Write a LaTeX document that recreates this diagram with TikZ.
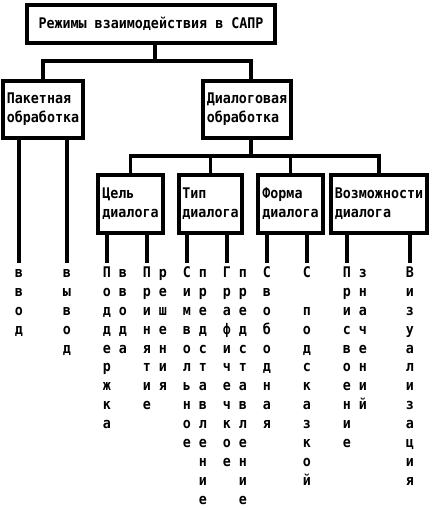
\documentclass[tikz,border=0pt]{standalone}
\usepackage{fontspec}
\newfontfamily\monofont{DejaVu Sans Mono Bold}[FakeStretch=0.91]
\begin{document}
\begin{tikzpicture}[x=0.75pt, y=-0.75pt, line width=2.3pt,
    box/.style={rectangle, draw, align=left, inner sep=0pt, font=\monofont\fontsize{11}{14}\selectfont},
    letters/.style={anchor=north, align=center, inner sep=0pt, font=\monofont\fontsize{11}{14.2}\selectfont}]
    \useasboundingbox (0,0) rectangle (435,510);

    \node [box, minimum width=186pt, minimum height=28.5pt] (top) at (151,24) {Режимы взаимодействия в САПР};

    \begin{scope}[every node/.style={box, minimum height=42.75pt}]
        \node [minimum width=60pt] (batch) at (43,109.5) {Пакетная\\обработка};
        \node [minimum width=66pt] (dlg) at (247,109.5) {Диалоговая\\обработка};
    \end{scope}

    \begin{scope}[every node/.style={box, minimum height=43.5pt}]
        \node [minimum width=48.75pt] (goal) at (130.5,204) {Цель\\диалога};
        \node [minimum width=47.25pt] (type) at (210.5,204) {Тип\\диалога};
        \node [minimum width=48.75pt] (form) at (290.5,204) {Форма\\диалога};
        \node [minimum width=72pt] (abil) at (379,204) {Возможности\\диалога};
    \end{scope}

    \begin{scope}[every node/.style={letters}]
        \node (vvod) at (19,262.5) {\strut в\\в\\о\\д};
        \node (vyvod) at (67,262.5) {\strut в\\ы\\в\\о\\д};
        \node (podderzhka) at (107,262.5) {\strut П\\о\\д\\д\\е\\р\\ж\\к\\а};
        \node (vvoda) at (123,262.5) {\strut в\\в\\о\\д\\а};
        \node (prinyatie) at (147,262.5) {\strut П\\р\\и\\н\\я\\т\\и\\е};
        \node (resheniya) at (163,262.5) {\strut р\\е\\ш\\е\\н\\и\\я};
        \node (simvol) at (187,262.5) {\strut С\\и\\м\\в\\о\\л\\ь\\н\\о\\е};
        \node (predst1) at (203,262.5) {\strut п\\р\\е\\д\\с\\т\\а\\в\\л\\е\\н\\и\\е};
        \node (grafich) at (227,262.5) {\strut Г\\р\\а\\ф\\и\\ч\\е\\ч\\к\\о\\е};
        \node (predst2) at (243,262.5) {\strut п\\р\\е\\д\\с\\т\\а\\в\\л\\е\\н\\и\\е};
        \node (svobod) at (267,262.5) {\strut С\\в\\о\\б\\о\\д\\н\\а\\я};
        \node (podskaz) at (307,262.5) {\strut С\\{}\\п\\о\\д\\с\\к\\а\\з\\к\\о\\й};
        \node (prisv) at (347,262.5) {\strut П\\р\\и\\с\\в\\о\\е\\н\\и\\е};
        \node (znach) at (363,262.5) {\strut з\\н\\а\\ч\\е\\н\\и\\й};
        \node (vizual) at (410,262.5) {\strut В\\и\\з\\у\\а\\л\\и\\з\\а\\ц\\и\\я};
    \end{scope}

    \coordinate (j0) at (155,61);
    \coordinate (j1) at (251,156);

    \draw (top.south -| j0) -- (j0);
    \draw (batch.north) |- (j0) -| (dlg.north -| j1);
    \draw (dlg.south -| j1) -- (j1);
    \draw (goal.north) |- (j1) -| (abil.north);
    \draw (type.north) -- (type.north |- j1);
    \draw (form.north) -- (form.north |- j1);

    \draw (batch.south -| vvod.north) -- (vvod.north);
    \draw (batch.south -| vyvod.north) -- (vyvod.north);
    \draw (goal.south -| podderzhka.north) -- (podderzhka.north);
    \draw (goal.south -| prinyatie.north) -- (prinyatie.north);
    \draw (type.south -| simvol.north) -- (simvol.north);
    \draw (type.south -| grafich.north) -- (grafich.north);
    \draw (form.south -| svobod.north) -- (svobod.north);
    \draw (form.south -| podskaz.north) -- (podskaz.north);
    \draw (abil.south -| prisv.north) -- (prisv.north);
    \draw (abil.south -| vizual.north) -- (vizual.north);
\end{tikzpicture}
\end{document}
